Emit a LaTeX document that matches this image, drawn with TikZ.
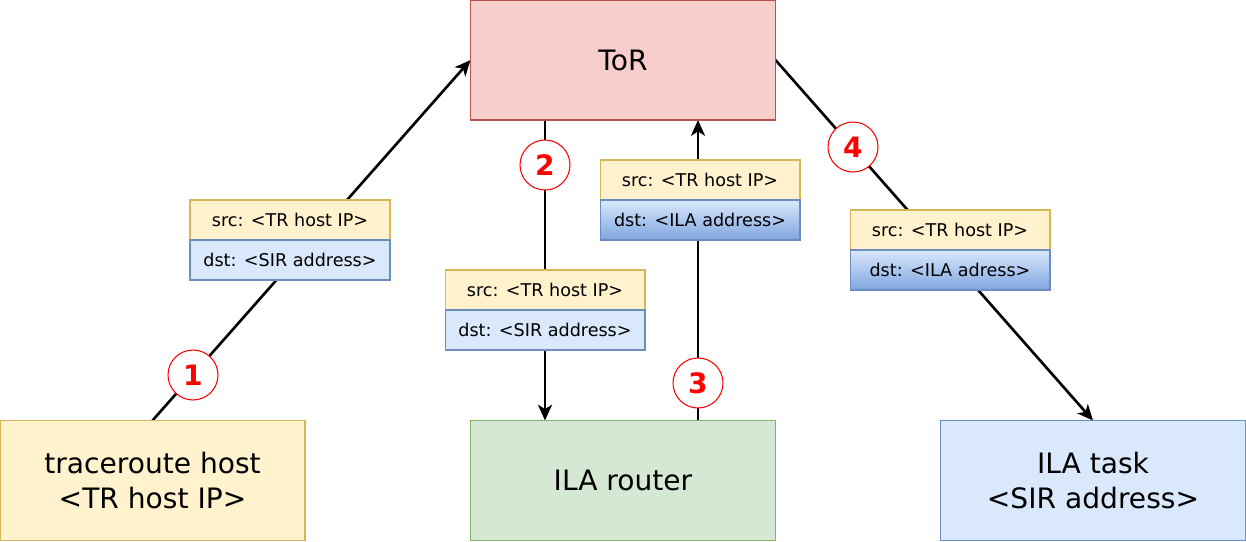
\documentclass[tikz,border=0pt]{standalone}
\usepackage{fontspec}
\setmainfont{DejaVu Sans}
\usetikzlibrary{arrows.meta,positioning,backgrounds}
\definecolor{hostfill}{HTML}{FFF2CC}
\definecolor{hostline}{HTML}{D6B656}
\definecolor{torfill} {HTML}{F8CECC}
\definecolor{torline} {HTML}{B85450}
\definecolor{rtrfill} {HTML}{D5E8D4}
\definecolor{rtrline} {HTML}{82B366}
\definecolor{taskfill}{HTML}{DAE8FC}
\definecolor{taskline}{HTML}{6C8EBF}
\definecolor{taskgrad}{HTML}{7EA6E0}
\definecolor{numred}  {HTML}{FF0000}
\begin{document}
\begin{tikzpicture}[x=0.02cm,y=-0.02cm,
  box/.style={draw,line width=0.6pt,minimum width=6.1cm,minimum height=2.4cm,
              inner sep=0pt,outer sep=0pt,align=center,font=\fontsize{16}{20}\selectfont},
  host/.style={box,fill=hostfill,draw=hostline},
  tor/.style={box,fill=torfill,draw=torline},
  rtr/.style={box,fill=rtrfill,draw=rtrline},
  task/.style={box,fill=taskfill,draw=taskline},
  hdr/.style={draw,line width=0.6pt,minimum width=4cm,minimum height=0.8cm,
              inner sep=0pt,outer sep=0pt,font=\fontsize{10}{12}\selectfont},
  srcbox/.style={hdr,fill=hostfill,draw=hostline},
  dstbox/.style={hdr,fill=taskfill,draw=taskline},
  dstgrad/.style={hdr,top color=taskfill,bottom color=taskgrad,draw=taskline},
  num/.style={circle,draw=numred,fill=white,text=numred,minimum size=1cm,line width=0.6pt,
              inner sep=0pt,font=\fontsize{16}{16}\selectfont\bfseries},
  arr/.style={-{Stealth[length=9pt,width=8pt,inset=2.5pt]},line width=1.5pt}
]
\useasboundingbox (0,0) rectangle (1246,541);
\node[tor]  (tor)  at (623,60)    {ToR};
\node[host] (trh)  at (152.5,480.5) {traceroute host\\<TR host IP>};
\node[rtr]  (rtr)  at (623,480.5) {ILA router};
\node[task] (task) at (1093,480.5) {ILA task\\<SIR address>};

\node[srcbox]  (src1) at (290,220) {src: <TR host IP>};
\node[dstbox]  (dst1) [below=0pt of src1] {dst: <SIR address>};
\node[srcbox]  (src2) at (545,290) {src: <TR host IP>};
\node[dstbox]  (dst2) [below=0pt of src2] {dst: <SIR address>};
\node[srcbox]  (src3) at (700,180) {src: <TR host IP>};
\node[dstgrad] (dst3) [below=0pt of src3] {dst: <ILA address>};
\node[srcbox]  (src4) at (950,230) {src: <TR host IP>};
\node[dstgrad] (dst4) [below=0pt of src4] {dst: <ILA adress>};

\node[num] (c1) at (193,375) {1};
\node[num] (c2) at (545,165) {2};
\node[num] (c3) at (698,383) {3};
\node[num] (c4) at (853,147) {4};

\begin{scope}[on background layer]
\draw[arr] (trh.north) -- (tor.west);
\draw[arr] (tor.south -| c2) -- (rtr.north -| c2);
\draw[arr] (rtr.north -| c3) -- (tor.south -| c3);
\draw[arr] (tor.east) -- (task.north);
\end{scope}
\end{tikzpicture}
\end{document}
